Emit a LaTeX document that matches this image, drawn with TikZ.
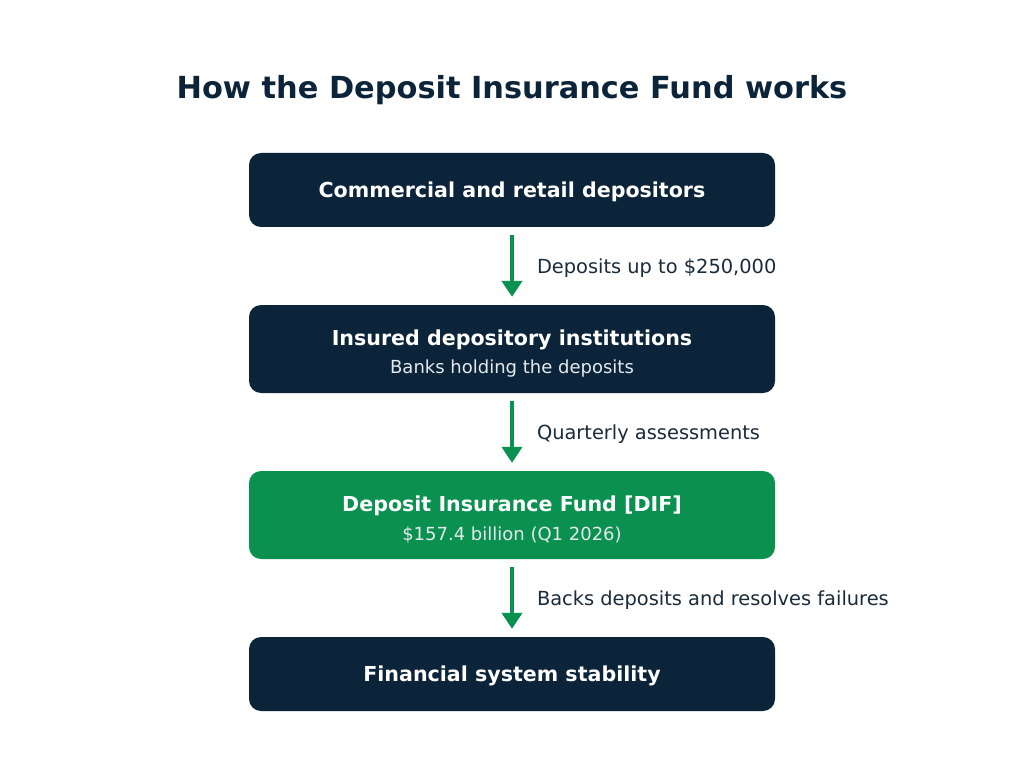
\documentclass[tikz,border=0pt]{standalone}
\usepackage{fontspec}
\setmainfont{DejaVu Sans}
\usetikzlibrary{arrows.meta}
\definecolor{navy}{HTML}{0B2439}
\definecolor{fgreen}{HTML}{0A9150}
\definecolor{labeltext}{HTML}{1A2B3C}
\definecolor{subtext}{HTML}{E4E9EE}
\tikzset{
  box/.style={rounded corners=12pt, minimum width=526pt, inner sep=0pt, draw=none},
  darkbox/.style={box, fill=navy},
  greenbox/.style={box, fill=fgreen},
  headtext/.style={text=white, font=\fontsize{20.6}{24}\selectfont\bfseries, inner sep=0pt},
  subline/.style={text=subtext, font=\fontsize{18}{21}\selectfont, inner sep=0pt},
  flow/.style={draw=fgreen, line width=4pt, -{Triangle[width=20pt,length=16pt]}, shorten <=8pt, shorten >=8pt},
  flowlabel/.style={text=labeltext, font=\fontsize{19.4}{23}\selectfont, anchor=west, inner sep=0pt, xshift=23pt, yshift=-2pt}
}
\begin{document}
\begin{tikzpicture}[x=1pt, y=-1pt]
\useasboundingbox[fill=white] (0,0) rectangle (1024,767);
\node[text=navy, font=\fontsize{30.4}{36}\selectfont\bfseries, inner sep=0pt] (title) at (512,90) {How the Deposit Insurance Fund works};
\node[darkbox, minimum height=74pt] (b1) at (512,190) {};
\node[headtext] (t1) at (512,191.5) {Commercial and retail depositors};
\node[darkbox, minimum height=88pt] (b2) at (512,349) {};
\node[headtext] (t2) at (512,339.5) {Insured depository institutions};
\node[subline] (s2) at (512,368.5) {Banks holding the deposits};
\node[greenbox, minimum height=88pt] (b3) at (512,515) {};
\node[headtext] (t3) at (512,505.5) {Deposit Insurance Fund [DIF]};
\node[subline] (s3) at (512,534.5) {\$157.4 billion (Q1 2026)};
\node[darkbox, minimum height=74pt] (b4) at (512,674) {};
\node[headtext] (t4) at (512,675.5) {Financial system stability};
\draw[flow] (b1) -- (b2) node[midway, flowlabel] (l1) {Deposits up to \$250,000};
\draw[flow] (b2) -- (b3) node[midway, flowlabel] (l2) {Quarterly assessments};
\draw[flow] (b3) -- (b4) node[midway, flowlabel] (l3) {Backs deposits and resolves failures};
\end{tikzpicture}
\end{document}
